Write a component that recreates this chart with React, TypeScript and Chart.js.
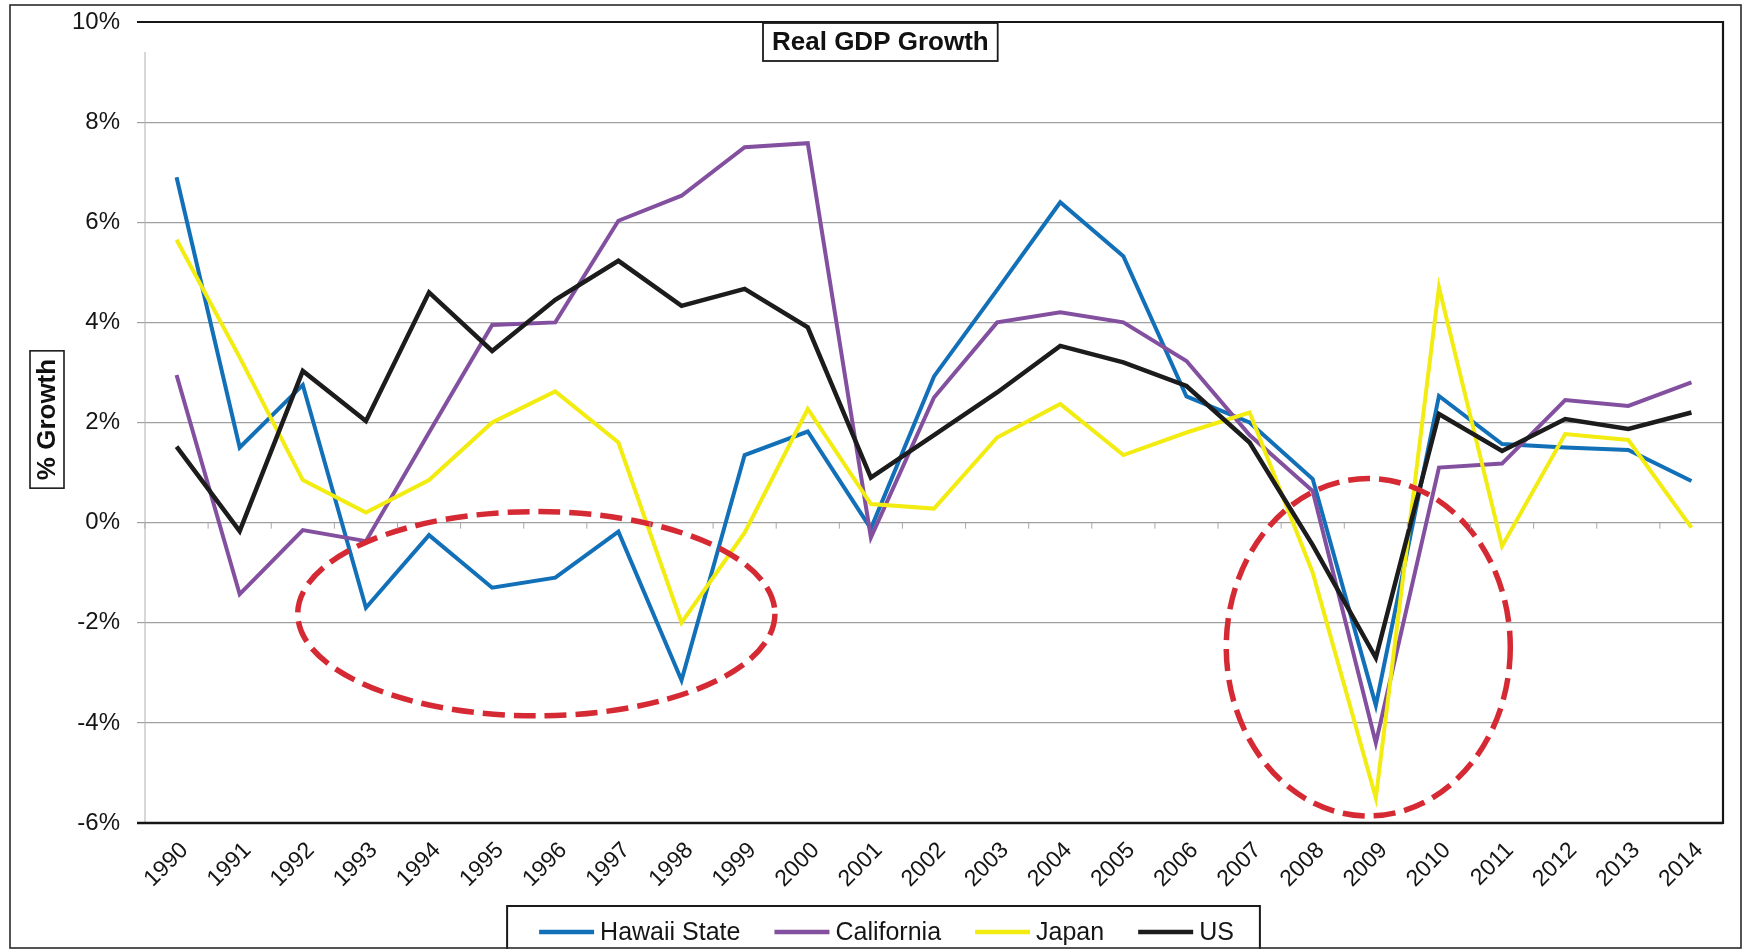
import React, { useEffect, useRef } from "react";
import { Chart, registerables } from "chart.js";

Chart.register(...registerables);

// ---------- data ----------
const YEARS = [
  "1990", "1991", "1992", "1993", "1994", "1995", "1996", "1997", "1998", "1999",
  "2000", "2001", "2002", "2003", "2004", "2005", "2006", "2007", "2008", "2009",
  "2010", "2011", "2012", "2013", "2014",
];
const HAWAII_STATE = [6.9, 1.5, 2.75, -1.7, -0.25, -1.3, -1.1, -0.18, -3.15, 1.35, 1.82, -0.12, 2.92, 4.65, 6.4, 5.32, 2.52, 2.0, 0.87, -3.65, 2.53, 1.57, 1.5, 1.45, 0.83];
const CALIFORNIA = [2.95, -1.43, -0.15, -0.37, 1.8, 3.95, 4.0, 6.03, 6.53, 7.5, 7.58, -0.3, 2.5, 4.0, 4.2, 4.0, 3.23, 1.75, 0.63, -4.4, 1.1, 1.18, 2.45, 2.33, 2.8];
const JAPAN = [5.65, 3.3, 0.85, 0.2, 0.85, 2.0, 2.62, 1.6, -2.0, -0.2, 2.27, 0.37, 0.28, 1.7, 2.37, 1.35, 1.8, 2.2, -1.0, -5.5, 4.7, -0.47, 1.77, 1.65, -0.1];
const US = [1.52, -0.17, 3.03, 2.03, 4.6, 3.43, 4.45, 5.23, 4.33, 4.67, 3.9, 0.9, 1.75, 2.6, 3.53, 3.2, 2.73, 1.6, -0.45, -2.7, 2.17, 1.43, 2.07, 1.87, 2.2];
const SERIES_NAMES = ["Hawaii State", "California", "Japan", "US"];
const Y_MIN = -6;
const Y_MAX = 10;
const Y_STEP = 2;
const CHART_TITLE = "Real GDP Growth";
const Y_TITLE = "% Growth";
// highlight ellipses in data units (category index, percent)
const HIGHLIGHT_CX = [5.7, 18.88];
const HIGHLIGHT_CY = [-1.82, -2.49];
const HIGHLIGHT_RX = [3.78, 2.25];
const HIGHLIGHT_RY = [2.04, 3.37];

// ---------- styles ----------
const FONT = "'Liberation Sans', Arial, Helvetica, sans-serif";
const COLORS = ["#1270b8", "#8350a0", "#f2ec10", "#1c1c1c"];

const decorPlugin = {
  id: "decor",
  beforeDraw(chart: any) {
    const ctx = chart.ctx;
    ctx.save();
    ctx.fillStyle = "#ffffff";
    ctx.fillRect(0, 0, chart.width, chart.height);
    ctx.restore();
  },
  afterDatasetsDraw(chart: any) {
    const ctx = chart.ctx;
    const xs = chart.scales.x;
    const ys = chart.scales.y;
    const unitX = xs.getPixelForValue(1) - xs.getPixelForValue(0);
    const unitY = Math.abs(ys.getPixelForValue(0) - ys.getPixelForValue(1));
    ctx.save();
    ctx.strokeStyle = "#d52a33";
    ctx.lineWidth = 5.5;
    ctx.setLineDash([22, 9]);
    for (let i = 0; i < HIGHLIGHT_CX.length; i++) {
      ctx.beginPath();
      ctx.ellipse(
        xs.getPixelForValue(HIGHLIGHT_CX[i]),
        ys.getPixelForValue(HIGHLIGHT_CY[i]),
        HIGHLIGHT_RX[i] * unitX,
        HIGHLIGHT_RY[i] * unitY,
        0,
        0,
        Math.PI * 2
      );
      ctx.stroke();
    }
    ctx.restore();
  },
  afterDraw(chart: any) {
    const ctx = chart.ctx;
    const a = chart.chartArea;
    const ys = chart.scales.y;
    ctx.save();

    // small category ticks on the zero line
    const y0 = ys.getPixelForValue(0);
    ctx.strokeStyle = "#a8a8a8";
    ctx.lineWidth = 1;
    const n = YEARS.length;
    for (let i = 0; i <= n; i++) {
      const x = a.left + ((a.right - a.left) * i) / n;
      ctx.beginPath();
      ctx.moveTo(x, y0);
      ctx.lineTo(x, y0 + 6);
      ctx.stroke();
    }

    // plot frame
    ctx.strokeStyle = "#b0b0b0";
    ctx.lineWidth = 1;
    ctx.beginPath();
    ctx.moveTo(a.left, a.top + 30);
    ctx.lineTo(a.left, a.bottom);
    ctx.stroke();
    ctx.strokeStyle = "#161616";
    ctx.lineWidth = 2.2;
    ctx.beginPath();
    ctx.moveTo(a.left - 8, a.top);
    ctx.lineTo(a.right, a.top);
    ctx.lineTo(a.right, a.bottom);
    ctx.lineTo(a.left, a.bottom);
    ctx.stroke();
    ctx.lineWidth = 2.6;
    ctx.beginPath();
    ctx.moveTo(a.left - 8, a.bottom);
    ctx.lineTo(a.right, a.bottom);
    ctx.stroke();

    // title box
    ctx.font = `bold 26px ${FONT}`;
    const tw = ctx.measureText(CHART_TITLE).width;
    const tcx = a.left + (a.right - a.left) * 0.466;
    const bw = tw + 18;
    const bh = 38;
    const bx = tcx - bw / 2;
    const by = a.top + 1;
    ctx.fillStyle = "#ffffff";
    ctx.fillRect(bx, by, bw, bh);
    ctx.strokeStyle = "#1a1a1a";
    ctx.lineWidth = 1.8;
    ctx.strokeRect(bx, by, bw, bh);
    ctx.fillStyle = "#111";
    ctx.textAlign = "center";
    ctx.textBaseline = "middle";
    ctx.fillText(CHART_TITLE, tcx, by + bh / 2 + 1);

    // y axis title box
    ctx.font = `bold 26px ${FONT}`;
    const yw = ctx.measureText(Y_TITLE).width;
    const ycx = a.left - 98;
    const ycy = (a.top + a.bottom) / 2 - 3;
    const yh = yw + 16;
    const ywid = 34;
    ctx.lineWidth = 1.6;
    ctx.strokeRect(ycx - ywid / 2, ycy - yh / 2, ywid, yh);
    ctx.translate(ycx, ycy);
    ctx.rotate(-Math.PI / 2);
    ctx.fillText(Y_TITLE, 0, 1);
    ctx.setTransform(1, 0, 0, 1, 0, 0);
    ctx.restore();
    ctx.save();

    // legend
    ctx.font = `25px ${FONT}`;
    const lineLen = 55;
    const gapText = 6;
    const gapItem = 34;
    const padL = 32;
    const padR = 26;
    const widths = SERIES_NAMES.map((s) => ctx.measureText(s).width);
    let total = padL + padR;
    widths.forEach((w, i) => {
      total += lineLen + gapText + w + (i < widths.length - 1 ? gapItem : 0);
    });
    const lx = chart.width / 2 + 12 - total / 2;
    const ly = a.bottom + 83;
    ctx.strokeStyle = "#1a1a1a";
    ctx.lineWidth = 2;
    ctx.strokeRect(lx, ly, total, 60);
    let cx = lx + padL;
    const cy = ly + 26;
    ctx.textAlign = "left";
    ctx.textBaseline = "middle";
    SERIES_NAMES.forEach((s, i) => {
      ctx.strokeStyle = COLORS[i];
      ctx.lineWidth = 4.5;
      ctx.beginPath();
      ctx.moveTo(cx, cy);
      ctx.lineTo(cx + lineLen, cy);
      ctx.stroke();
      cx += lineLen + gapText;
      ctx.fillStyle = "#151515";
      ctx.fillText(s, cx, cy + 1);
      cx += widths[i] + gapItem;
    });

    // outer frame
    ctx.strokeStyle = "#2a2a2a";
    ctx.lineWidth = 1.6;
    ctx.strokeRect(10, 5, chart.width - 12, chart.height - 6);
    ctx.restore();
  },
};

export default function App() {
  const canvasRef = useRef<HTMLCanvasElement | null>(null);

  useEffect(() => {
    if (!canvasRef.current) return;
    const seriesValues = [HAWAII_STATE, CALIFORNIA, JAPAN, US];
    const chart = new Chart(canvasRef.current, {
      type: "line",
      data: {
        labels: YEARS,
        datasets: seriesValues.map((vals, i) => ({
          label: SERIES_NAMES[i],
          data: vals,
          borderColor: COLORS[i],
          backgroundColor: COLORS[i],
          borderWidth: i === 3 ? 4.5 : 4,
          pointRadius: 0,
          tension: 0,
          fill: false,
          order: 3 - i,
        })),
      },
      options: {
        responsive: false,
        animation: false,
        devicePixelRatio: 1,
        layout: { padding: { left: 0, right: 20, top: 22, bottom: 0 } },
        plugins: {
          legend: { display: false },
          title: { display: false },
          tooltip: { enabled: false },
        },
        scales: {
          x: {
            type: "category",
            offset: true,
            grid: { display: false },
            border: { display: false },
            ticks: {
              autoSkip: false,
              maxRotation: 45,
              minRotation: 45,
              padding: 6,
              labelOffset: 8,
              color: "#151515",
              font: { family: FONT, size: 23 },
            },
            afterFit(scale: any) {
              scale.height = 126;
              scale.paddingTop = 0;
              scale.paddingBottom = 0;
            },
          },
          y: {
            min: Y_MIN,
            max: Y_MAX,
            grid: {
              color: "#a0a0a0",
              lineWidth: 1.2,
              drawTicks: true,
              tickLength: 8,
            },
            border: { display: false },
            ticks: {
              stepSize: Y_STEP,
              padding: 17,
              color: "#151515",
              font: { family: FONT, size: 24 },
              callback: (v: any) => `${v}%`,
            },
            afterFit(scale: any) {
              scale.width = 145;
              scale.paddingTop = 0;
              scale.paddingBottom = 0;
            },
          },
        },
      },
      plugins: [decorPlugin],
    });
    return () => chart.destroy();
  }, []);

  return (
    <div style={{ position: "absolute", left: 0, top: 0, width: 1743, height: 949, background: "#fff" }}>
      <canvas ref={canvasRef} width={1743} height={949} style={{ width: 1743, height: 949, display: "block" }} />
    </div>
  );
}
